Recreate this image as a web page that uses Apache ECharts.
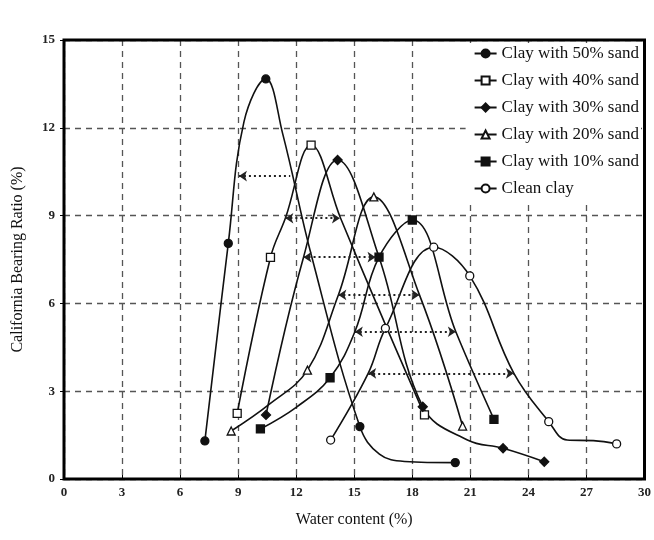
<!DOCTYPE html>
<html>
<head>
<meta charset="utf-8">
<script src="https://cdn.jsdelivr.net/npm/echarts@6/dist/echarts.min.js"></script>
<style>
  html, body { margin: 0; padding: 0; background: #fff; }
  #cbrChart { width: 654px; height: 540px; }
</style>
</head>
<body>
<div id="cbrChart"></div>
<script>
const seriesNames = ['Clay with 50% sand', 'Clay with 40% sand', 'Clay with 30% sand',
  'Clay with 20% sand', 'Clay with 10% sand', 'Clean clay'];

// measured points (with markers), [water content, CBR]
const sand50 = [[7.28, 1.30], [8.49, 8.05], [10.43, 13.67], [15.29, 1.79], [20.22, 0.56]];
const sand40 = [[8.95, 2.24], [10.67, 7.57], [12.77, 11.41], [18.63, 2.19]];
const sand30 = [[10.44, 2.19], [14.14, 10.90], [18.54, 2.47], [22.69, 1.05], [24.82, 0.59]];
const sand20 = [[8.64, 1.64], [12.58, 3.72], [16.01, 9.64], [20.60, 1.81]];
const sand10 = [[10.15, 1.71], [13.75, 3.46], [16.28, 7.58], [18.0, 8.85], [22.22, 2.04]];
const clean = [[13.78, 1.33], [16.61, 5.15], [19.11, 7.92], [20.97, 6.94], [25.05, 1.96], [28.56, 1.20]];

// extra points (no markers)
const sand50Curve = [[9.3, 12.2], [11.3, 11.8], [12.8, 7.6], [16.3, 0.85], [17.6, 0.6]];
const sand40Curve = [[11.44, 8.91], [14.3, 8.9], [16.4, 5.6]];
const sand30Curve = [[12.38, 7.58], [16.28, 7.58], [20.85, 1.33]];
const sand20Curve = [[10.6, 2.55], [14.18, 6.29], [18.37, 6.29]];
const sand10Curve = [[12.0, 2.45], [15.03, 5.03], [20.25, 5.03]];
const cleanCurve = [[15.72, 3.61], [23.25, 3.61], [26.0, 1.33], [27.36, 1.31]];

// dotted width arrows: [CBR level, left water content, right water content]
const widthArrows = [[10.35, 9.04, 11.69], [8.91, 11.44, 14.26], [7.58, 12.38, 16.1],
  [6.29, 14.18, 18.37], [5.03, 15.03, 20.25], [3.61, 15.72, 23.25]];

const measuredSets = [sand50, sand40, sand30, sand20, sand10, clean];
const curveSets = [sand50Curve, sand40Curve, sand30Curve, sand20Curve, sand10Curve, cleanCurve];
const symbols = ['circle', 'rect', 'diamond', 'triangle', 'rect', 'circle'];
const filled = [true, false, true, false, true, false];
const symbolSizes = [8, 8, 9, 8, 8, 8];

const serif = 'Liberation Serif, Times New Roman, serif';

function buildData(measured, curve) {
  const pts = measured.map(p => ({ value: p, mark: true }))
    .concat(curve.map(p => ({ value: p, mark: false })));
  pts.sort((a, b) => a.value[0] - b.value[0]);
  return pts.map(p => p.mark ? { value: p.value } : { value: p.value, symbol: 'none' });
}

const series = seriesNames.map((name, i) => {
  const a = widthArrows[i];
  return {
    name: name,
    type: 'line',
    smooth: 0.4,
    data: buildData(measuredSets[i], curveSets[i]),
    symbol: symbols[i],
    symbolSize: symbolSizes[i],
    showAllSymbol: true,
    lineStyle: { color: '#111', width: 1.6 },
    itemStyle: { color: filled[i] ? '#111' : '#fff', borderColor: '#111', borderWidth: 1.3 },
    z: 3,
    markLine: {
      silent: true,
      symbolSize: 8,
      label: { show: false },
      lineStyle: { color: '#222', type: [2, 3], width: 1.8 },
      data: [[
        { coord: [a[1], a[0]], symbol: 'arrow' },
        { coord: [a[2], a[0]], symbol: i === 0 ? 'none' : 'arrow' }
      ]]
    }
  };
});

const chart = echarts.init(document.getElementById('cbrChart'));
chart.setOption({
  animation: false,
  backgroundColor: '#fff',
  grid: { left: 64, right: 6, top: 40, bottom: 61, show: true, borderColor: '#000', borderWidth: 3, z: 10 },
  legend: {
    data: seriesNames,
    orient: 'vertical',
    right: 13,
    top: 43,
    itemWidth: 22,
    itemHeight: 10,
    itemGap: 10,
    backgroundColor: '#fff',
    padding: [2, 2, 6, 8],
    textStyle: { fontFamily: serif, fontSize: 17, color: '#111' }
  },
  xAxis: {
    type: 'value',
    min: 0, max: 30, interval: 3,
    name: 'Water content (%)',
    nameLocation: 'middle',
    nameGap: 33,
    nameTextStyle: { fontFamily: serif, fontSize: 16, color: '#111' },
    axisLine: { show: true, lineStyle: { color: '#000', width: 2 } },
    axisTick: { show: true, inside: true, length: 4, lineStyle: { color: '#000' } },
    axisLabel: { margin: 7, fontFamily: serif, fontSize: 13, fontWeight: 'bold', color: '#222' },
    splitLine: { show: true, lineStyle: { color: '#555', type: [6, 5], width: 1.3 } }
  },
  yAxis: {
    type: 'value',
    min: 0, max: 15, interval: 3,
    name: 'California Bearing Ratio (%)',
    nameLocation: 'middle',
    nameGap: 38,
    nameTextStyle: { fontFamily: serif, fontSize: 16, color: '#111' },
    axisLine: { show: true, lineStyle: { color: '#000', width: 2 } },
    axisTick: { show: true, length: 4, lineStyle: { color: '#000' } },
    axisLabel: { margin: 9, fontFamily: serif, fontSize: 13, fontWeight: 'bold', color: '#222' },
    splitLine: { show: true, lineStyle: { color: '#555', type: [6, 5], width: 1.3 } }
  },
  series: series
});
</script>
</body>
</html>
